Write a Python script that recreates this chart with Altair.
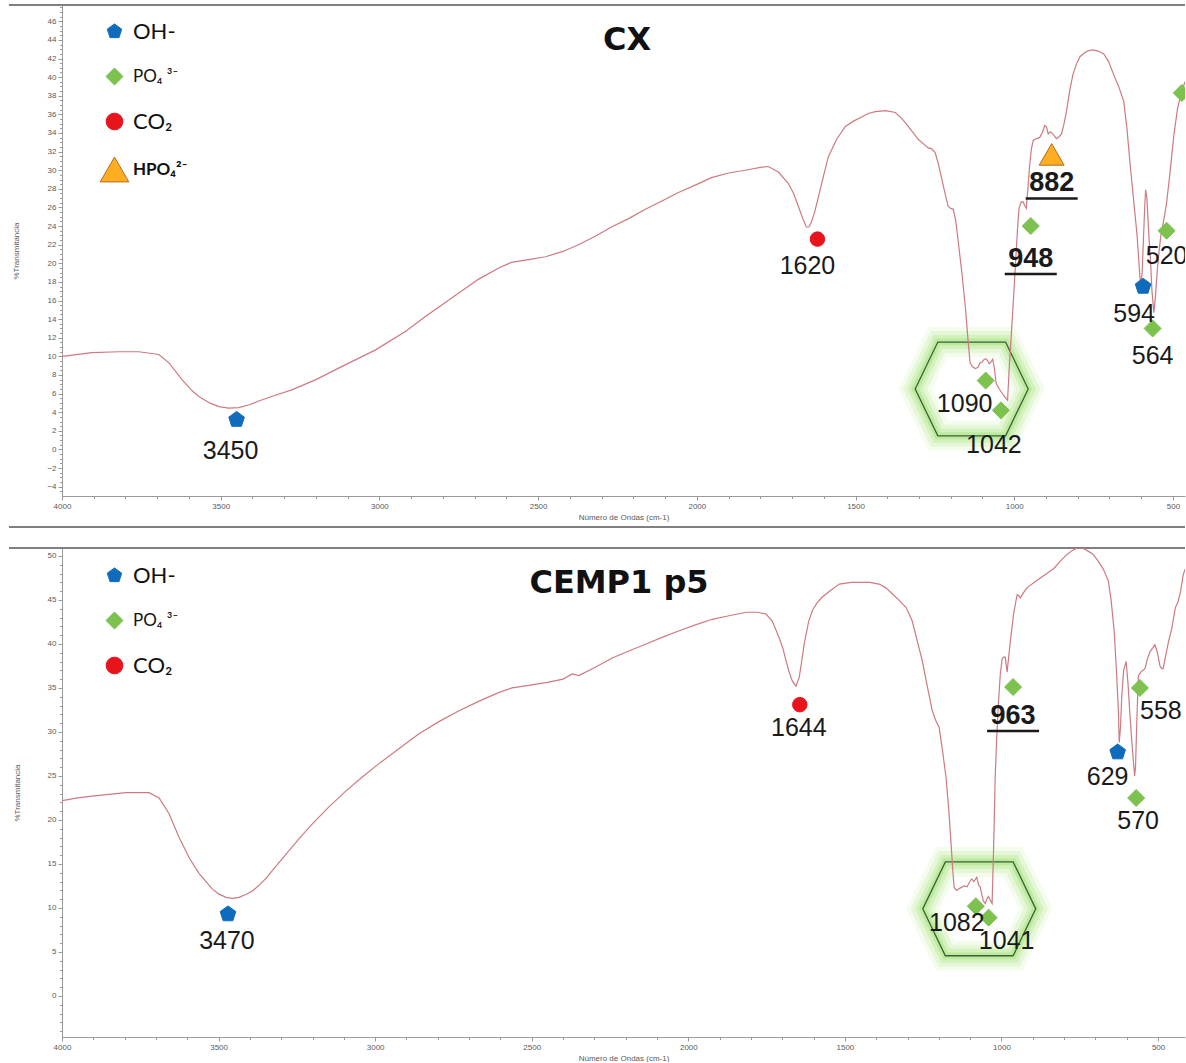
import altair as alt
import pandas as pd
import numpy as np

# ---------------- FTIR spectra: wavenumber (cm-1) and % transmittance ----------------
cx_wn = [4000, 3906, 3820, 3758, 3695, 3663, 3622, 3590, 3569, 3535, 3506, 3475, 3443, 3410,
         3380, 3330, 3276, 3200, 3119, 3012, 2917, 2854, 2750, 2687, 2624, 2584, 2530, 2477,
         2420, 2373, 2320, 2269, 2215, 2162, 2110, 2058, 2005, 1954, 1900, 1847, 1800, 1775,
         1743, 1712, 1695, 1680, 1666, 1655, 1647, 1639, 1628, 1617, 1600, 1586, 1560, 1532,
         1505, 1482, 1460, 1438, 1405, 1375, 1355, 1334, 1318, 1302, 1285, 1271, 1260, 1249,
         1240, 1230, 1218, 1208, 1200, 1192, 1184, 1177, 1165, 1154, 1145, 1139, 1132, 1123,
         1115, 1108, 1101, 1094, 1088, 1083, 1079, 1073, 1068, 1063, 1057, 1049, 1041, 1033,
         1026, 1021, 1016, 1009, 1003, 998, 994, 989, 985, 978, 972, 967, 962, 957, 952, 946,
         940, 930, 920, 912, 904, 898, 893, 888, 884, 876, 867, 859, 851, 843, 835, 825, 815,
         804, 793, 775, 760, 750, 735, 718, 703, 687, 670, 655, 645, 634, 623, 613, 607, 602,
         597, 593, 589, 586, 582, 579, 576, 571, 566, 560, 555, 549, 543, 538, 528, 520, 510,
         497, 486, 475, 462]
cx_t = [10.0, 10.4, 10.5, 10.5, 10.2, 9.3, 7.5, 6.3, 5.7, 5.0, 4.6, 4.45, 4.5, 4.8,
        5.2, 5.8, 6.4, 7.5, 8.9, 10.7, 12.7, 14.3, 16.8, 18.3, 19.5, 20.1, 20.4, 20.7,
        21.3, 22.0, 22.9, 23.9, 24.8, 25.8, 26.7, 27.6, 28.4, 29.2, 29.7, 30.0, 30.3, 30.4,
        29.8, 28.6, 27.5, 26.1, 24.8, 23.9, 23.9, 24.4, 25.6, 27.1, 29.5, 31.4, 33.3, 34.7,
        35.3, 35.7, 36.1, 36.3, 36.4, 36.2, 35.6, 34.7, 34.0, 33.3, 32.8, 32.4, 32.3, 31.9,
        30.8, 29.3, 27.5, 26.1, 25.9, 25.8, 24.5, 22.5, 19.0, 15.3, 11.5, 9.3, 8.9, 8.7,
        8.8, 9.3, 9.4, 9.7, 9.7, 9.5, 9.2, 9.4, 9.7, 8.8, 7.1, 6.6, 6.2, 5.8,
        5.5, 5.3, 8.6, 12.5, 15.8, 18.8, 21.2, 24.0, 25.9, 26.6, 26.6, 26.2, 25.9, 28.0, 30.3, 32.3,
        33.2, 33.4, 33.5, 34.0, 34.8, 34.6, 33.9, 34.1, 34.1, 33.8, 33.4, 33.6, 33.9, 35.0, 36.4, 38.6, 40.3,
        41.4, 42.2, 42.7, 42.9, 42.9, 42.8, 42.5, 41.7, 40.3, 38.9, 37.4, 34.5, 30.3, 26.5, 23.0, 20.0, 17.6,
        19.0, 22.5, 26.0, 27.9, 27.0, 25.0, 23.0, 20.5, 17.0, 14.7, 16.5, 19.4, 21.5, 23.0, 24.8, 26.5, 29.5,
        33.8, 36.5, 38.2, 39.5]

cemp_wn = [4000, 3950, 3904, 3850, 3796, 3722, 3690, 3658, 3626, 3594, 3562, 3521, 3500, 3476,
           3455, 3435, 3415, 3393, 3370, 3348, 3320, 3285, 3245, 3202, 3150, 3093, 3040, 2988,
           2920, 2860, 2795, 2732, 2668, 2604, 2563, 2510, 2454, 2400, 2371, 2350, 2300, 2243,
           2190, 2135, 2080, 2029, 1975, 1924, 1870, 1815, 1780, 1752, 1732, 1710, 1698, 1688,
           1678, 1668, 1656, 1646, 1638, 1630, 1616, 1604, 1590, 1573, 1545, 1518, 1480, 1445,
           1420, 1391, 1370, 1349, 1325, 1304, 1295, 1285, 1270, 1253, 1237, 1221, 1210, 1199,
           1188, 1177, 1168, 1161, 1155, 1151, 1143, 1135, 1120, 1110, 1103, 1095, 1088, 1079,
           1073, 1068, 1062, 1058, 1052, 1047, 1042, 1036, 1030, 1025, 1020, 1015, 1011, 1004,
           998, 993, 988, 982, 977, 972, 961, 950, 945, 940, 930, 918, 895, 876, 855, 832, 810,
           790, 775, 758, 742, 726, 708, 691, 675, 659, 650, 640, 633, 627, 624, 620, 616, 610,
           602, 596, 591, 585, 580, 575, 572, 568, 563, 555, 548, 542, 534, 526, 518, 510, 502,
           494, 488, 484, 476, 467, 456, 445, 436, 428, 420, 414]
cemp_t = [22.2, 22.5, 22.7, 22.9, 23.1, 23.1, 22.5, 20.7, 18.0, 15.7, 13.9, 12.2, 11.6, 11.2,
          11.1, 11.2, 11.5, 11.9, 12.6, 13.4, 14.6, 16.1, 17.8, 19.5, 21.4, 23.3, 24.9, 26.4,
          28.2, 29.8, 31.2, 32.4, 33.5, 34.5, 35.0, 35.3, 35.6, 36.0, 36.6, 36.4, 37.3, 38.4,
          39.2, 40.0, 40.8, 41.5, 42.2, 42.8, 43.2, 43.6, 43.6, 43.4, 42.6, 40.7, 39.5, 38.1,
          36.8, 35.8, 35.2, 36.2, 38.0, 40.0, 42.5, 43.8, 44.6, 45.3, 46.1, 46.8, 47.0, 47.0,
          47.0, 46.8, 46.4, 45.7, 44.9, 44.1, 43.4, 42.6, 40.5, 38.1, 35.2, 32.4, 31.3, 30.5,
          27.8, 24.8, 21.0, 17.3, 14.0, 12.3, 12.0, 12.2, 12.5, 12.4, 12.9, 13.3, 13.0, 13.5,
          12.6, 12.4, 11.4, 10.8, 10.5, 11.0, 11.3, 10.9, 10.5, 17.0, 25.0, 29.5, 32.6, 36.5,
          38.3, 38.5, 38.5, 36.8, 38.5, 40.2, 43.5, 45.6, 45.5, 45.2, 45.8, 46.4, 47.0, 47.5, 48.0, 48.6, 49.5,
          50.2, 50.6, 50.9, 50.9, 50.6, 50.2, 49.4, 48.5, 47.2, 45.0, 41.4, 37.0, 32.6, 28.8, 30.5, 34.0, 37.0,
          38.0, 35.5, 32.6, 29.5, 27.2, 25.0, 26.0, 31.0, 36.4, 36.8, 37.0, 37.2, 38.3, 39.1, 39.5, 39.9, 39.0,
          37.5, 37.2, 37.2, 38.6, 40.2, 41.8, 44.1, 44.8, 46.0, 47.8, 48.5]

# ---------------- band assignments ----------------
cx_band_wn = [3450, 1620, 1090, 1042, 948, 882, 594, 564, 520, 472]
cx_band_t = [3.2, 22.6, 7.4, 4.2, 24.0, 31.7, 17.5, 13.0, 23.5, 38.3]
cx_band_ion = ["OH-", "CO₂", "PO₄ ³⁻", "PO₄ ³⁻", "PO₄ ³⁻", "HPO₄²⁻", "OH-", "PO₄ ³⁻", "PO₄ ³⁻", "PO₄ ³⁻"]
cx_band_label = ["3450", "1620", "1090", "1042", "948", "882", "594", "564", "520", ""]
cx_band_bold = [False, False, False, False, True, True, False, False, False, False]

cemp_band_wn = [3470, 1644, 1082, 1041, 963, 629, 570, 558]
cemp_band_t = [9.3, 33.1, 10.2, 8.9, 35.1, 27.7, 22.5, 35.0]
cemp_band_ion = ["OH-", "CO₂", "PO₄ ³⁻", "PO₄ ³⁻", "PO₄ ³⁻", "OH-", "PO₄ ³⁻", "PO₄ ³⁻"]
cemp_band_label = ["3470", "1644", "1082", "1041", "963", "629", "570", "558"]
cemp_band_bold = [False, False, False, False, True, False, False, False]

# centre of the highlighted PO4 stretching region (wavenumber, %T)
cx_po4_box = (1134, 6.5)
cemp_po4_box = (1071, 9.9)

# ---------------- styling ----------------
PENTAGON = "M0,-1L0.951,-0.309L0.588,0.809L-0.588,0.809L-0.951,-0.309Z"
HEXAGON = "M-1,0L-0.6,-0.83L0.6,-0.83L1,0L0.6,0.83L-0.6,0.83Z"

ION_ORDER = ["OH-", "PO₄ ³⁻", "CO₂", "HPO₄²⁻"]
ION_FILL = {"OH-": "#0f6cbd", "PO₄ ³⁻": "#7dc24f", "CO₂": "#e8141c", "HPO₄²⁻": "#ffad21"}
ION_STROKE = {"OH-": "#0f6cbd", "PO₄ ³⁻": "#7dc24f", "CO₂": "#e8141c", "HPO₄²⁻": "#b96a1e"}
ION_SHAPE = {"OH-": PENTAGON, "PO₄ ³⁻": "diamond", "CO₂": "circle", "HPO₄²⁻": "triangle-up"}
ION_SIZE = {"OH-": 270, "PO₄ ³⁻": 290, "CO₂": 210, "HPO₄²⁻": 620}
LEGEND_SYMBOL_SIZE = ("datum.value == 'HPO₄²⁻' ? 820 : datum.value == 'CO₂' ? 280 : "
                      "datum.value == 'PO₄ ³⁻' ? 290 : 230")

# pixel nudges (dx, dy) of each band label from its marker
LABEL_NUDGE = {
    "3450": (-6, 31), "1620": (-10, 27), "1090": (-21, 23), "1042": (-7, 35),
    "948": (0, 33), "882": (0, 29), "594": (-9, 27), "564": (0, 28), "520": (0, 25),
    "3470": (-1, 27), "1644": (-1, 23), "1082": (-19, 17), "1041": (18, 23),
    "963": (0, 29), "629": (-10, 25), "570": (2, 23), "558": (21, 23),
}

LINE_COLOR = "#cd7a80"
PLOT_W = 1123

AXIS_TEXT = dict(labelFont="Liberation Sans", labelFontSize=8, labelColor="#5a5a5a",
                 tickColor="#9a9a9a", domainColor="#9a9a9a", grid=False,
                 titleFont="Liberation Sans", titleFontSize=8, titleFontWeight="normal",
                 titleColor="#5a5a5a", labelOverlap=False)


def panel(name, wn, t, band_wn, band_t, band_ion, band_label, band_bold, box,
          xdom, ydom, ymajor, yminor, height, legend_y, title_x):
    xs = alt.Scale(domain=xdom, nice=False, zero=False)
    ys = alt.Scale(domain=ydom, nice=False, zero=False)
    spec = pd.DataFrame({"wn": wn, "T": t})
    bands = pd.DataFrame({"wn": band_wn, "T": band_t, "ion": band_ion,
                          "label": band_label, "bold": band_bold})
    bands["dx"] = [LABEL_NUDGE.get(l, (0, 0))[0] for l in band_label]
    bands["dy"] = [LABEL_NUDGE.get(l, (0, 0))[1] for l in band_label]
    bands["sz"] = [ION_SIZE[i] for i in band_ion]
    box_df = pd.DataFrame({"wn": [box[0]], "T": [box[1]]})
    ions = [i for i in ION_ORDER if i in band_ion]

    def X(axis=None):
        return alt.X("wn:Q", scale=xs, axis=axis)

    def Y(axis=None):
        return alt.Y("T:Q", scale=ys, axis=axis)

    x_major = alt.Axis(orient="bottom", values=list(range(500, 4001, 500)), format="d",
                       tickSize=4, labelPadding=2, title="Número de Ondas (cm-1)",
                       titlePadding=3, labelFlush=False, **AXIS_TEXT)
    x_minor = alt.Axis(orient="bottom", values=list(range(500, 4001, 100)), tickSize=2.5,
                       labels=False, domain=False, title=None, tickColor="#9a9a9a", grid=False)
    y_major = alt.Axis(orient="left", values=ymajor, tickSize=4, labelPadding=2,
                       title="%Transmitancia", titlePadding=26, **AXIS_TEXT)
    y_minor = alt.Axis(orient="left", values=yminor, tickSize=2.5, labels=False, domain=False,
                       title=None, tickColor="#9a9a9a", grid=False)

    one = pd.DataFrame({"k": [0]})
    frame_top = alt.Chart(one).mark_rule(color="#808080", strokeWidth=2).encode(
        x=alt.value(-53), x2=alt.value(PLOT_W), y=alt.value(0))
    layers = [frame_top]
    if name == "CX":
        layers.append(alt.Chart(one).mark_rule(color="#808080", strokeWidth=2).encode(
            x=alt.value(-53), x2=alt.value(PLOT_W), y=alt.value(height + 31)))

    # soft green halo around the PO4 stretching region
    for w, o in [(30, 0.10), (22, 0.15), (14, 0.22), (7, 0.32)]:
        layers.append(alt.Chart(box_df).mark_point(
            shape=HEXAGON, size=12769, filled=False, stroke="#93df5c",
            strokeWidth=w, strokeOpacity=o, opacity=1).encode(x=X(), y=Y()))
    layers.append(alt.Chart(box_df).mark_point(
        shape=HEXAGON, size=12769, filled=False, stroke="#3c5e3c",
        strokeWidth=1.3, opacity=1).encode(x=X(), y=Y()))

    layers.append(alt.Chart(spec).mark_line(color=LINE_COLOR, strokeWidth=1.2, clip=True).encode(
        x=X(x_major), y=Y(y_major)))
    layers.append(alt.Chart(spec).mark_line(opacity=0).encode(x=X(x_minor), y=Y(y_minor)))

    legend = alt.Legend(
        orient="none", legendX=44, legendY=legend_y, title=None,
        labelFont="Lato", labelColor="#111111", labelOffset=10,
        rowPadding=22, symbolStrokeWidth=1,
        symbolSize=alt.ExprRef(expr=LEGEND_SYMBOL_SIZE),
        labelFontSize=alt.ExprRef(expr="datum.value == 'OH-' || datum.value == 'CO₂' ? 22 : 17"),
        labelFontWeight=alt.ExprRef(expr="datum.value == 'HPO₄²⁻' ? 'bold' : 'normal'"))

    layers.append(alt.Chart(bands).mark_point(filled=True, opacity=1, strokeWidth=1, clip=True).encode(
        x=X(), y=Y(),
        shape=alt.Shape("ion:N", scale=alt.Scale(domain=ions, range=[ION_SHAPE[i] for i in ions]), legend=legend),
        fill=alt.Fill("ion:N", scale=alt.Scale(domain=ions, range=[ION_FILL[i] for i in ions]), legend=legend),
        stroke=alt.Stroke("ion:N", scale=alt.Scale(domain=ions, range=[ION_STROKE[i] for i in ions]), legend=legend),
        size=alt.Size("sz:Q", scale=None),
    ))

    plain = alt.Chart(bands).transform_filter("!datum.bold && datum.label != ''")
    layers.append(plain.mark_text(font="Liberation Sans", fontSize=25, color="#1a1a1a",
                                  baseline="middle", align="center", clip=True,
                                  dx=alt.ExprRef(expr="datum.dx"),
                                  dy=alt.ExprRef(expr="datum.dy")).encode(
        x=X(), y=Y(), text="label:N"))

    strong = alt.Chart(bands).transform_filter("datum.bold")
    layers.append(strong.mark_text(font="Liberation Sans", fontSize=27, fontWeight="bold",
                                   color="#1a1a1a", baseline="middle", align="center", clip=True,
                                   dx=alt.ExprRef(expr="datum.dx"),
                                   dy=alt.ExprRef(expr="datum.dy")).encode(
        x=X(), y=Y(), text="label:N"))
    layers.append(strong.mark_rule(color="#1a1a1a", strokeWidth=2.5, xOffset=-26, x2Offset=26,
                                   yOffset=alt.ExprRef(expr="datum.dy + 15")).encode(
        x=X(), x2="wn:Q", y=Y()))

    layers.append(alt.Chart(pd.DataFrame({"name": [name]})).mark_text(
        font="DejaVu Sans", fontSize=32, fontWeight="bold", color="#111111",
        baseline="middle", align="center").encode(
        text="name:N", x=alt.value(title_x), y=alt.value(35)))

    return alt.layer(*layers).resolve_axis(x="independent", y="independent").properties(
        width=PLOT_W, height=height)


top = panel("CX", cx_wn, cx_t, cx_band_wn, cx_band_t, cx_band_ion, cx_band_label, cx_band_bold,
            cx_po4_box, [4000, 462], [-5, 47.75], list(range(-4, 47, 2)),
            [float(v) for v in np.arange(-4.5, 47.6, 0.5)], 491, 18, 565)
bottom = panel("CEMP1 p5", cemp_wn, cemp_t, cemp_band_wn, cemp_band_t, cemp_band_ion,
               cemp_band_label, cemp_band_bold, cemp_po4_box, [4000, 414], [-4.66, 50.9],
               list(range(0, 51, 5)), list(range(-4, 51, 1)), 489, 19, 557)

chart = alt.vconcat(top, bottom, spacing=19).resolve_scale(
    fill="independent", stroke="independent", shape="independent"
).resolve_legend(
    fill="independent", stroke="independent", shape="independent"
).properties(
    padding={"left": 8, "top": 4, "right": 0, "bottom": 0}
).configure_view(stroke=None)

chart.save("out.html", embed_options={"renderer": "svg", "actions": False})
